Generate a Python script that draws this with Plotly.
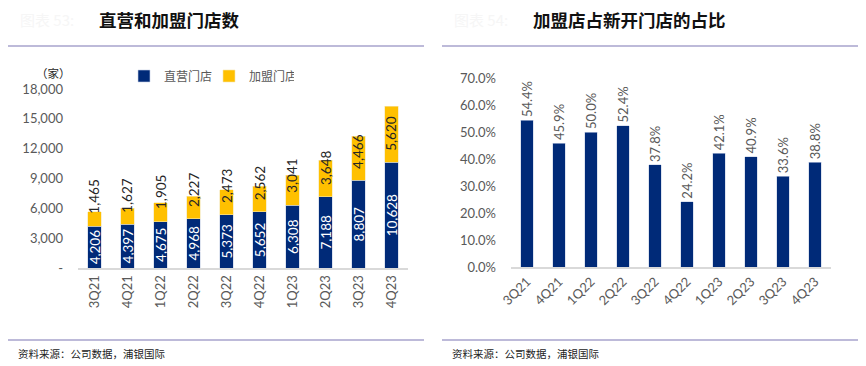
import plotly.graph_objects as go

quarters = ["3Q21", "4Q21", "1Q22", "2Q22", "3Q22", "4Q22", "1Q23", "2Q23", "3Q23", "4Q23"]
direct_stores = [4206, 4397, 4675, 4968, 5373, 5652, 6308, 7188, 8807, 10628]
franchise_stores = [1465, 1627, 1905, 2227, 2473, 2562, 3041, 3648, 4466, 5620]
franchise_share = [0.544, 0.459, 0.500, 0.524, 0.378, 0.242, 0.421, 0.409, 0.336, 0.388]
left_ticks = [0, 3000, 6000, 9000, 12000, 15000, 18000]
left_ticktext = ["-", "3,000", "6,000", "9,000", "12,000", "15,000", "18,000"]
right_ticks = [0, 0.1, 0.2, 0.3, 0.4, 0.5, 0.6, 0.7]

BLUE = "#002a78"
YELLOW = "#ffc000"
GRAY = "#595959"
NUM_FONT = "Lato, 'Noto Sans', sans-serif"
CJK = "'Noto Sans CJK SC', sans-serif"
OFF = 8  # page body margin
W, H = 866 - OFF, 366 - OFF

def px(x):
    return (x - OFF) / W

def py(y):
    return (366 - y) / H

fig = go.Figure()

fig.add_trace(go.Bar(
    x=quarters, y=direct_stores, name="直营门店", marker=dict(color=BLUE, line=dict(color="#c8d2e6", width=0.6)),
    text=[f"{v:,}" for v in direct_stores], textposition="inside", insidetextanchor="middle",
    textangle=-90, constraintext="none", textfont=dict(color="white", size=13.5, family=NUM_FONT),
    xaxis="x", yaxis="y",
))
fig.add_trace(go.Bar(
    x=quarters, y=franchise_stores, name="加盟门店", marker=dict(color=YELLOW, line=dict(color="#f5e6b0", width=0.6)),
    xaxis="x", yaxis="y",
))
fig.add_trace(go.Bar(
    x=quarters, y=franchise_share, name="占比", showlegend=False,
    marker=dict(color=BLUE, line=dict(color="#c8d2e6", width=0.6)),
    text=[f"{v*100:.1f}%" for v in franchise_share], textposition="outside", textangle=-90,
    constraintext="none", cliponaxis=False, textfont=dict(color=GRAY, size=13, family=NUM_FONT),
    xaxis="x2", yaxis="y2",
))

annotations = []
for q, d, f in zip(quarters, direct_stores, franchise_stores):
    annotations.append(dict(
        x=q, y=d, xref="x", yref="y", text=f"{f:,}", showarrow=False, textangle=-90,
        yanchor="middle", xanchor="center", yshift=29,
        font=dict(color="#262626", size=13.5, family=NUM_FONT),
    ))

annotations += [
    dict(x=px(97), y=py(19), xref="paper", yref="paper", text="<b>直营和加盟门店数</b>", showarrow=False,
         xanchor="left", yanchor="middle", font=dict(size=17.5, color="#111111", family=CJK)),
    dict(x=px(531), y=py(19), xref="paper", yref="paper", text="<b>加盟店占新开门店的占比</b>", showarrow=False,
         xanchor="left", yanchor="middle", font=dict(size=17.5, color="#111111", family=CJK)),
    dict(x=px(18), y=py(19), xref="paper", yref="paper", text="图表 53:", showarrow=False,
         xanchor="left", yanchor="middle", font=dict(size=15, color="#f6f6f6", family=CJK)),
    dict(x=px(452), y=py(19), xref="paper", yref="paper", text="图表 54:", showarrow=False,
         xanchor="left", yanchor="middle", font=dict(size=15, color="#f6f6f6", family=CJK)),
    dict(x=px(16), y=py(353), xref="paper", yref="paper", text="资料来源：公司数据，浦银国际", showarrow=False,
         xanchor="left", yanchor="middle", font=dict(size=10.5, color="#222222", family=CJK)),
    dict(x=px(450), y=py(353), xref="paper", yref="paper", text="资料来源：公司数据，浦银国际", showarrow=False,
         xanchor="left", yanchor="middle", font=dict(size=10.5, color="#222222", family=CJK)),
    dict(x=px(53), y=py(73), xref="paper", yref="paper", text="（家）", showarrow=False,
         xanchor="center", yanchor="middle", font=dict(size=11.5, color="#262626", family=CJK)),
]

LINE = "#a7a3cc"
shapes = [
    dict(type="line", xref="paper", yref="paper", x0=px(7), x1=px(424), y0=py(46), y1=py(46), line=dict(color=LINE, width=1.5)),
    dict(type="line", xref="paper", yref="paper", x0=px(442), x1=px(859), y0=py(46), y1=py(46), line=dict(color=LINE, width=1.5)),
    dict(type="line", xref="paper", yref="paper", x0=px(7), x1=px(424), y0=py(340), y1=py(340), line=dict(color=LINE, width=1.5)),
    dict(type="line", xref="paper", yref="paper", x0=px(442), x1=px(859), y0=py(340), y1=py(340), line=dict(color=LINE, width=1.5)),
]

fig.update_layout(
    width=W, height=H, margin=dict(l=0, r=0, t=0, b=0, autoexpand=False),
    paper_bgcolor="white", plot_bgcolor="white",
    barmode="stack", bargap=0.6,
    showlegend=True,
    legend=dict(orientation="h", x=px(124), y=py(76), xanchor="left", yanchor="middle",
                font=dict(size=12, color=GRAY, family=CJK), itemwidth=30, traceorder="normal",
                entrywidth=40, bgcolor="rgba(0,0,0,0)"),
    xaxis=dict(domain=[px(78), px(408)], anchor="y", showline=True, linecolor="#d9d9d9", linewidth=2,
               tickangle=-90, tickfont=dict(size=13, color=GRAY, family=NUM_FONT), ticks="",
               showgrid=False, automargin=False),
    yaxis=dict(domain=[py(268), py(89)], anchor="x", range=[0, 18000], tickvals=left_ticks, ticktext=left_ticktext,
               showgrid=False, zeroline=False, showline=False, ticks="", ticklabelstandoff=14,
               tickfont=dict(size=13, color=GRAY, family=NUM_FONT), automargin=False),
    xaxis2=dict(domain=[px(511), px(831)], anchor="y2", showline=True, linecolor="#d9d9d9", linewidth=2,
                tickangle=-45, tickfont=dict(size=13, color=GRAY, family=NUM_FONT), ticks="",
                showgrid=False, automargin=False),
    yaxis2=dict(domain=[py(267), py(78)], anchor="x2", range=[0, 0.7], tickvals=right_ticks, tickformat=".1%",
                showgrid=False, zeroline=False, showline=False, ticks="", ticklabelstandoff=14,
                tickfont=dict(size=13, color=GRAY, family=NUM_FONT), automargin=False),
    annotations=annotations, shapes=shapes,
)

fig.write_html("out.html")
